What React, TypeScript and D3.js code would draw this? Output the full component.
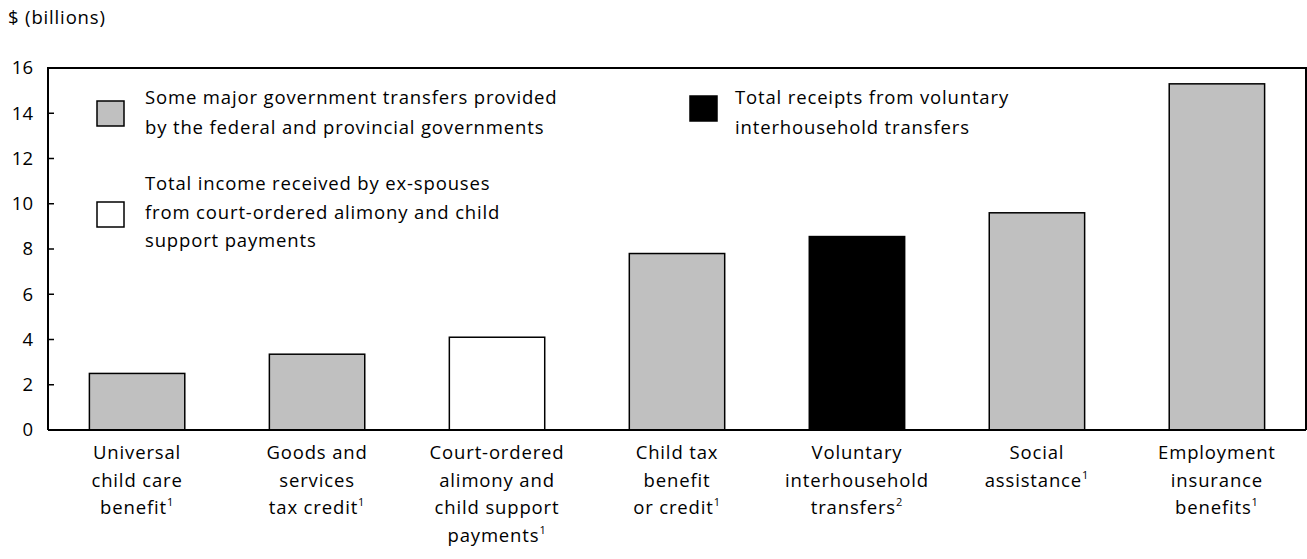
import React from "react";
import * as d3 from "d3";

const yAxisTitle = "$ (billions)";
const categoryLines: string[][] = [
  ["Universal", "child care", "benefit"],
  ["Goods and", "services", "tax credit"],
  ["Court-ordered", "alimony and", "child support", "payments"],
  ["Child tax", "benefit", "or credit"],
  ["Voluntary", "interhousehold", "transfers"],
  ["Social", "assistance"],
  ["Employment", "insurance", "benefits"],
];
const notes = ["1", "1", "1", "1", "2", "1", "1"];
const values = [2.5, 3.35, 4.1, 7.8, 8.55, 9.6, 15.3];
const groups = ["gov", "gov", "court", "gov", "vol", "gov", "gov"];
const yTicks = [0, 2, 4, 6, 8, 10, 12, 14, 16];

const legendGov = ["Some major government transfers provided", "by the federal and provincial governments"];
const legendCourt = ["Total income received by ex-spouses", "from court-ordered alimony and child", "support payments"];
const legendVol = ["Total receipts from voluntary", "interhousehold transfers"];

const fills: Record<string, string> = { gov: "#c0c0c0", court: "#ffffff", vol: "#000000" };

const W = 1307;
const H = 559;
const left = 48;
const right = 1306;
const top = 68;
const bottom = 430;
const FONT = "'Open Sans', sans-serif";
const FS = 18.5;
const LS = 0.85;

export default function App() {
  const x = d3
    .scaleBand<number>()
    .domain(values.map((_, i) => i))
    .range([left, right])
    .paddingInner(0.47)
    .paddingOuter(0.23);
  const y = d3.scaleLinear().domain([0, 16]).range([bottom, top]);

  const legendItem = (
    lines: string[],
    fill: string,
    sx: number,
    sy: number,
    tx: number,
    ty: number,
    gap: number,
    key: string
  ) => (
    <g key={key}>
      <rect x={sx} y={sy} width={27} height={25} fill={fill} stroke="#000" strokeWidth={1.5} />
      {lines.map((l, i) => (
        <text
          key={i}
          x={tx}
          y={ty + i * gap}
          fontSize={FS}
          letterSpacing={LS}
          fontFamily={FONT}
          fill="#000"
        >
          {l}
        </text>
      ))}
    </g>
  );

  return (
    <svg
      width={W}
      height={H}
      style={{ position: "absolute", left: 0, top: 0, background: "#fff" }}
    >
      <text x={8} y={24} fontSize={FS} letterSpacing={LS} fontFamily={FONT} fill="#000">
        {yAxisTitle}
      </text>

      {values.map((v, i) => (
        <rect
          key={i}
          x={x(i)}
          y={y(v)}
          width={x.bandwidth()}
          height={y(0) - y(v)}
          fill={fills[groups[i]]}
          stroke="#000"
          strokeWidth={1.5}
        />
      ))}

      <path
        d={`M${left},${bottom}V${top}H${right}V${bottom}`}
        fill="none"
        stroke="#000"
        strokeWidth={2}
      />
      <line x1={left} x2={right} y1={y(0)} y2={y(0)} stroke="#000" strokeWidth={2} />

      {yTicks.map((t) => (
        <g key={t}>
          <line x1={left} x2={left + 6} y1={y(t)} y2={y(t)} stroke="#000" strokeWidth={1.5} />
          <text
            x={33}
            y={y(t)}
            dy="0.35em"
            textAnchor="end"
            fontSize={FS}
            fontFamily={FONT}
            fill="#000"
          >
            {t}
          </text>
        </g>
      ))}

      {categoryLines.map((lines, i) => {
        const cx = (x(i) as number) + x.bandwidth() / 2;
        return (
          <text
            key={i}
            textAnchor="middle"
            fontSize={FS}
            letterSpacing={LS}
            fontFamily={FONT}
            fill="#000"
          >
            {lines.map((l, j) => (
              <tspan key={j} x={cx} y={459 + j * 27.5}>
                {l}
                {j === lines.length - 1 ? (
                  <tspan fontSize={11} dy={-8}>
                    {notes[i]}
                  </tspan>
                ) : null}
              </tspan>
            ))}
          </text>
        );
      })}

      {legendItem(legendGov, fills.gov, 97, 101, 145, 104, 30, "gov")}
      {legendItem(legendCourt, fills.court, 97, 202, 145, 190, 28.5, "court")}
      {legendItem(legendVol, fills.vol, 690, 96, 735, 104, 30, "vol")}
    </svg>
  );
}
